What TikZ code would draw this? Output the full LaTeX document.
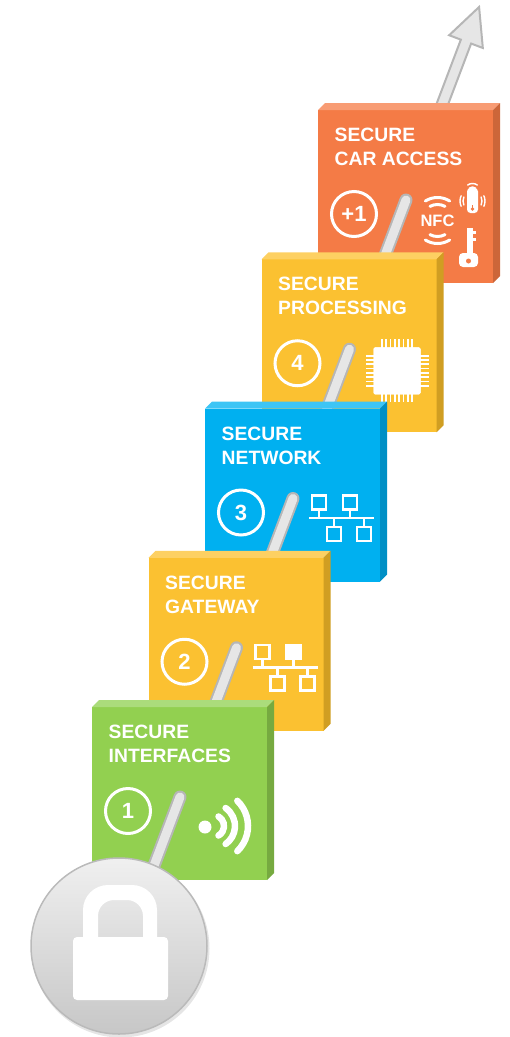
\documentclass[tikz,border=0pt]{standalone}
\usepackage{fontspec}
\setmainfont{Liberation Sans}
\usetikzlibrary{calc}

\definecolor{orFront}{HTML}{F47B46}
\definecolor{orTop}{HTML}{F89C74}
\definecolor{orSide}{HTML}{CC6639}
\definecolor{ylFront}{HTML}{FBC131}
\definecolor{ylTop}{HTML}{FDD062}
\definecolor{ylSide}{HTML}{D09E22}
\definecolor{blFront}{HTML}{00B0F0}
\definecolor{blTop}{HTML}{3DC5F5}
\definecolor{blSide}{HTML}{008FC5}
\definecolor{grFront}{HTML}{92D050}
\definecolor{grTop}{HTML}{ABDC7B}
\definecolor{grSide}{HTML}{76AA40}
\definecolor{rodEdge}{HTML}{B6B6B6}
\definecolor{rodCore}{HTML}{E6E6E6}

% one block of the staircase: front face node, lighter top strip, darker side
\newcommand{\stepblock}[6]{%
  \node[stepface, fill=#4] (#1) at (#2,#3) {};
  \fill[#5] (#1.north west) -- ([shift={(7,-7)}]#1.north west)
     -- ([shift={(7,-7)}]#1.north east) -- (#1.north east) -- cycle;
  \fill[#6] (#1.north east) -- ([shift={(7,-7)}]#1.north east)
     -- ([shift={(7,-7)}]#1.south east) -- (#1.south east) -- cycle;
}
% two-line heading of a block
\newcommand{\steptitle}[3]{%
  \node[titletext] (#1-l1) at ($(#1.north west)+(16.5,31.5)$) {#2};
  \node[titletext] (#1-l2) at ($(#1.north west)+(16.5,55.5)$) {#3};
}
% ringed step number
\newcommand{\stepnum}[2]{%
  \node[numring] (#1-n) at ($(#1.north west)+(36,104)$) {#2};
}
% piece of the grey rod
\newcommand{\rodpiece}[2]{%
  \draw[rodedge] (#1) -- (#2);
  \draw[rodcore] (#1) -- (#2);
}
% network topology icon; #2 = extra option for the top right box
\newcommand{\neticon}[2]{%
  \begin{scope}[shift={($(#1.north west)+(107,87)$)}, draw=white, line width=2.5pt]
    \draw (0,0) rectangle (14,14);
    \draw[#2] (31,0) rectangle (45,14);
    \draw (7,14) -- (7,22.5) (38,14) -- (38,22.5);
    \draw (-3,22.5) -- (62,22.5);
    \draw (22,22.5) -- (22,31.5) (52,22.5) -- (52,31.5);
    \draw (15,31.5) rectangle (29,45.5);
    \draw (45,31.5) rectangle (59,45.5);
  \end{scope}
}

\begin{document}
\begin{tikzpicture}[x=1pt, y=-1pt,
  stepface/.style={anchor=north west, minimum width=175pt, minimum height=173pt,
    inner sep=0pt, outer sep=0pt, draw=none},
  titletext/.style={anchor=base west, inner sep=0pt, text=white,
    font=\fontsize{19.3}{23}\selectfont\bfseries},
  numring/.style={circle, draw=white, line width=3pt, minimum size=45pt,
    inner sep=0pt, text=white, font=\fontsize{22}{26}\selectfont\bfseries},
  rodedge/.style={draw=rodEdge, line width=13pt, line cap=round},
  rodcore/.style={draw=rodCore, line width=9pt, line cap=round},
  iconline/.style={draw=white, line cap=round}]

\useasboundingbox (0,0) rectangle (510,1037);

% points where the rod pierces each block
\coordinate (c0) at (180,797);
\coordinate (c1) at (236.5,647.75);
\coordinate (c2) at (293,498.5);
\coordinate (c3) at (349.5,349.25);
\coordinate (c4) at (406,200);
\coordinate (lk) at (123.6,946);
\coordinate (tip) at (479.1,7);
\coordinate (hb) at ($(tip)!37pt!(c4)$);

% rod with arrow head leaving the top block
\draw[draw=rodEdge, fill=rodCore, line width=2pt, line join=miter]
  ($(c4)!5.5pt!90:(tip)$) -- ($(hb)!5.5pt!-90:(c4)$) -- ($(hb)!18pt!-90:(c4)$)
  -- (tip) -- ($(hb)!18pt!90:(c4)$) -- ($(hb)!5.5pt!90:(c4)$)
  -- ($(c4)!5.5pt!-90:(tip)$) -- cycle;

% ---- block 5: secure car access
\stepblock{b4}{318}{110}{orFront}{orTop}{orSide}
\steptitle{b4}{SECURE}{CAR ACCESS}
\stepnum{b4}{+1}
\begin{scope}[shift={(b4.north west)}]
  \node[inner sep=0pt, text=white, font=\fontsize{16.5}{18}\selectfont\bfseries]
    (nfc) at (119.5,110.5) {NFC};
  \begin{scope}[iconline, line width=3pt]
    \draw (119.5,110.5) ++(-122:23) arc[start angle=-122, end angle=-58, radius=23];
    \draw (119.5,110.5) ++(-118:16) arc[start angle=-118, end angle=-62, radius=16];
    \draw (119.5,110.5) ++(58:23) arc[start angle=58, end angle=122, radius=23];
    \draw (119.5,110.5) ++(62:16) arc[start angle=62, end angle=118, radius=16];
  \end{scope}
  % key fob
  \fill[white, rounded corners=3.5pt] (149,78) rectangle (160,103);
  \fill[orFront] (154.5,99) circle[radius=1.8];
  \fill[orFront] (153.8,95) rectangle (155.2,99);
  \begin{scope}[iconline, line width=1.4pt]
    \draw (154.5,82) ++(-130:5) arc[start angle=-130, end angle=-50, radius=5];
    \draw (154.5,82) ++(-125:8.5) arc[start angle=-125, end angle=-55, radius=8.5];
    \draw (154.5,91) ++(155:9.5) arc[start angle=155, end angle=205, radius=9.5];
    \draw (154.5,91) ++(155:12.5) arc[start angle=155, end angle=205, radius=12.5];
    \draw (154.5,91) ++(-25:9.5) arc[start angle=-25, end angle=25, radius=9.5];
    \draw (154.5,91) ++(-25:12.5) arc[start angle=-25, end angle=25, radius=12.5];
  \end{scope}
  % key
  \fill[white] (149,118) rectangle (155,145);
  \fill[white] (155,121) rectangle (158,124);
  \fill[white] (155,128) rectangle (158,131);
  \fill[white, rounded corners=4pt] (141,143) rectangle (160,157);
  \fill[orFront] (150.5,151) circle[radius=2.5];
\end{scope}
\rodpiece{c4}{c3}

% ---- block 4: secure processing
\stepblock{b3}{261.5}{259.25}{ylFront}{ylTop}{ylSide}
\steptitle{b3}{SECURE}{PROCESSING}
\stepnum{b3}{4}
\begin{scope}[shift={(b3.north west)}]
  \fill[white, rounded corners=1.5pt] (112,88) rectangle (159,135);
  \foreach \k in {-3.5,-2.5,-1.5,-0.5,0.5,1.5,2.5,3.5} {
    \fill[white] ({135.5+4.3*\k-0.85},80) rectangle ({135.5+4.3*\k+0.85},143);
    \fill[white] (104,{111.5+4.3*\k-0.85}) rectangle (167,{111.5+4.3*\k+0.85});
  }
  \fill[white, rounded corners=1.5pt] (112,88) rectangle (159,135);
\end{scope}
\rodpiece{c3}{c2}

% ---- block 3: secure network
\stepblock{b2}{205}{408.5}{blFront}{blTop}{blSide}
\steptitle{b2}{SECURE}{NETWORK}
\stepnum{b2}{3}
\neticon{b2}{}
\rodpiece{c2}{c1}

% ---- block 2: secure gateway
\stepblock{b1}{148.5}{557.75}{ylFront}{ylTop}{ylSide}
\steptitle{b1}{SECURE}{GATEWAY}
\stepnum{b1}{2}
\neticon{b1}{fill=white}
\rodpiece{c1}{c0}

% ---- block 1: secure interfaces
\stepblock{b0}{92}{707}{grFront}{grTop}{grSide}
\steptitle{b0}{SECURE}{INTERFACES}
\stepnum{b0}{1}
\begin{scope}[shift={(b0.north west)}]
  \fill[white] (113,120) circle[radius=6.5];
  \begin{scope}[iconline, line width=6.5pt]
    \draw (121,119) ++(-60:11) arc[start angle=-60, end angle=60, radius=11];
    \draw (121,119) ++(-55:22) arc[start angle=-55, end angle=55, radius=22];
    \draw (121,119) ++(-46:35) arc[start angle=-46, end angle=46, radius=35];
  \end{scope}
\end{scope}
\rodpiece{c0}{lk}

% ---- padlock disc at the foot of the rod
\fill[black!10] (120.5,948.5) circle[radius=89];
\node[circle, minimum size=176pt, inner sep=0pt, top color=black!6,
  bottom color=black!22, draw=black!27, line width=1.5pt] (lock) at (119,946) {};
\fill[white, even odd rule]
  [rounded corners=25pt] (83,990) -- (83,885) -- (157,885) -- (157,990) -- cycle
  [rounded corners=16pt] (98,990) -- (98,900) -- (143,900) -- (143,990) -- cycle;
\fill[white, rounded corners=4pt] (73,937) rectangle (168,1000);

\end{tikzpicture}
\end{document}
